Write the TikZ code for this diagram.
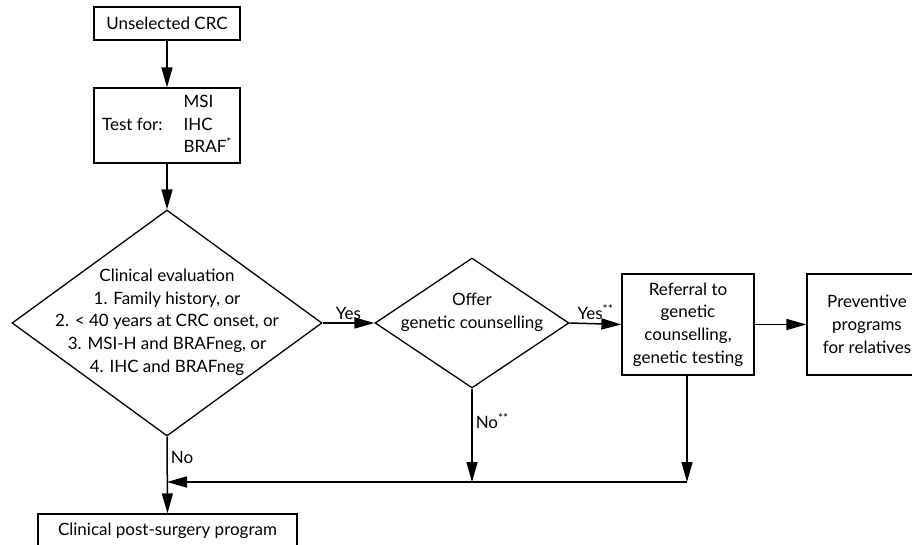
\documentclass[tikz,border=0pt]{standalone}
\usepackage{fontspec}
\setmainfont{Lato}
\usetikzlibrary{shapes.geometric,arrows.meta}
\begin{document}
\begin{tikzpicture}[x=1pt,y=-1pt,
  every node/.style={font=\fontsize{17}{22.7}\selectfont},
  box/.style={draw, line width=1.3pt, inner sep=0pt, align=center},
  dia/.style={draw, diamond, line width=1.3pt, inner sep=0pt},
  txt/.style={align=center, inner sep=0pt},
  conn/.style={line width=1.5pt, -{Triangle[length=20pt,width=11pt]}},
  plain/.style={line width=1.5pt},
  lbl/.style={inner sep=3pt}]
\useasboundingbox[fill=white] (0,0) rectangle (912,545);

% boxes
\node[box, minimum width=146pt, minimum height=33pt] (u) at (167,23.5) {Unselected CRC};
\node[box, minimum width=146pt, minimum height=75pt] (t) at (167,125.5)
  {\renewcommand{\arraystretch}{1}\begin{tabular}{@{}l@{\hspace{21pt}}l@{}}
   & MSI\\ Test for: & IHC\\ & BRAF\textsuperscript{*}\end{tabular}};
\node[dia, minimum width=310pt, minimum height=226pt] (d1) at (167,323) {};
\node[txt] (d1t) at (167,322) {Clinical evaluation\\1. Family history, or\\2. < 40 years at CRC onset, or\\3. MSI-H and BRAFneg, or\\4. IHC and BRAFneg};
\node[dia, minimum width=194pt, minimum height=130pt] (d2) at (472,323) {};
\node[txt] (d2t) at (472,312) {Offer\\genetic counselling};
\node[box, minimum width=132pt, minimum height=101pt] (r) at (688,324.5)
  {Referral to\\genetic\\counselling,\\genetic testing};
\node[box, minimum width=120pt, minimum height=101pt] (p) at (867,324.5)
  {Preventive\\programs\\for relatives};
\node[box, minimum width=259pt, minimum height=34pt] (c) at (167.5,531)
  {Clinical post-surgery program};

% junction points
\coordinate (j0) at (167,482);
\coordinate (j1) at (472,482);
\coordinate (j2) at (687,482);

% connectors
\draw[conn] (u) -- (t);
\draw[conn] (t) -- (d1.north);
\draw[conn] (d1.east) -- node[lbl, above] (yes1) {Yes} (d2.west);
\draw[conn] (d2.east) -- node[lbl, above] (yes2) {Yes\textsuperscript{**}} (r.west);
\draw[conn] (r) -- (p);
\draw[conn] (d2.south) -- node[lbl, right, pos=0.35] (no2) {No\textsuperscript{**}} (j1);
\draw[conn] (r.south -| j2) -- (j2);
\draw[conn] (j2) -- (j0);
\draw[conn] (d1.south) -- node[lbl, right, pos=0.27] (no1) {No} (c.north);
\end{tikzpicture}
\end{document}
